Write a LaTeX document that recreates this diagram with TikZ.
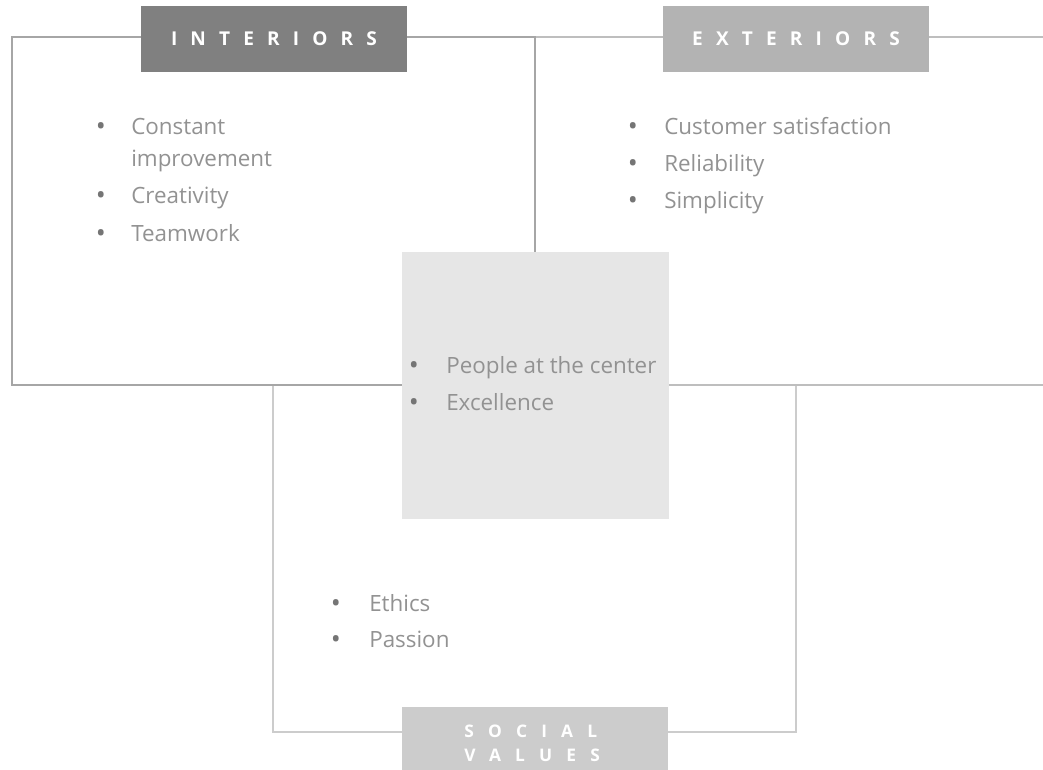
\documentclass[tikz,border=0pt]{standalone}
\usepackage{fontspec}
\setmainfont{Open Sans}
\usepackage{tikz}

\definecolor{intgray}{HTML}{808080}
\definecolor{extgray}{HTML}{B3B3B3}
\definecolor{socgray}{HTML}{CCCCCC}
\definecolor{coregray}{HTML}{E6E6E6}
\definecolor{txtgray}{HTML}{929292}

\newcommand{\headfont}{\fontsize{14.3}{17}\selectfont\bfseries\addfontfeature{LetterSpace=69}}
\newcommand{\socfont}{\fontsize{13}{18}\selectfont\bfseries\addfontfeature{LetterSpace=82}}

\tikzset{
  intframe/.style={draw=intgray!70, line width=1.1pt},
  extframe/.style={draw=extgray!85, line width=1.1pt},
  socframe/.style={draw=socgray, line width=1.1pt},
  headbox/.style={minimum width=199.5pt, minimum height=49.5pt, inner sep=0pt, text=white, font=\headfont},
  headtxt/.style={anchor=north west, align=left, inner sep=0pt, text=white, font=\socfont},
  item/.style={anchor=base west, inner sep=0pt, text=txtgray, font=\fontsize{16.8}{20}\selectfont},
  bul/.style={anchor=base, inner sep=0pt, yshift=-1.2pt, text=txtgray!80!black, font=\fontsize{20}{24}\selectfont}
}

\begin{document}
\begin{tikzpicture}[x=0.75pt, y=-0.75pt]
    \useasboundingbox (0,0) rectangle (1043,769);
    \clip (0,0) rectangle (1043,769);
    % frames
    \draw [socframe] (273,385) rectangle (796,732);
    \draw [extframe] (535,37) rectangle (1060,385);
    \draw [intframe] (12,37) rectangle (535,385);
    % centre square
    \node [fill=coregray, minimum width=200.25pt, minimum height=200.25pt, inner sep=0pt] (core) at (535.5,385.5) {};
    % headers
    \node [headbox, fill=intgray] (int) at (274,39) {INTERIORS};
    \node [headbox, fill=extgray] (ext) at (796,39) {EXTERIORS};
    \node [headbox, fill=socgray, anchor=north] (soc) at (535,707) {};
    \node [headtxt] (soctxt) at (464,725) {SOCIAL\\VALUES};
    % interiors
    \node [bul]  (ib1) at (101,134) {•};
    \node [item] (i1) at (131,134) {Constant};
    \node [item] (i2) at (131,166) {improvement};
    \node [bul]  (ib2) at (101,203) {•};
    \node [item] (i3) at (131,203) {Creativity};
    \node [bul]  (ib3) at (101,241) {•};
    \node [item] (i4) at (131,241) {Teamwork};
    % exteriors
    \node [bul]  (eb1) at (633,134) {•};
    \node [item] (e1) at (664,134) {Customer satisfaction};
    \node [bul]  (eb2) at (633,171) {•};
    \node [item] (e2) at (664,171) {Reliability};
    \node [bul]  (eb3) at (633,208) {•};
    \node [item] (e3) at (664,208) {Simplicity};
    % centre
    \node [bul]  (cb1) at (414,373) {•};
    \node [item] (c1) at (446,373) {People at the center};
    \node [bul]  (cb2) at (414,410) {•};
    \node [item] (c2) at (446,410) {Excellence};
    % social values
    \node [bul]  (sb1) at (336,611) {•};
    \node [item] (s1) at (369,611) {Ethics};
    \node [bul]  (sb2) at (336,647) {•};
    \node [item] (s2) at (369,647) {Passion};
\end{tikzpicture}
\end{document}
